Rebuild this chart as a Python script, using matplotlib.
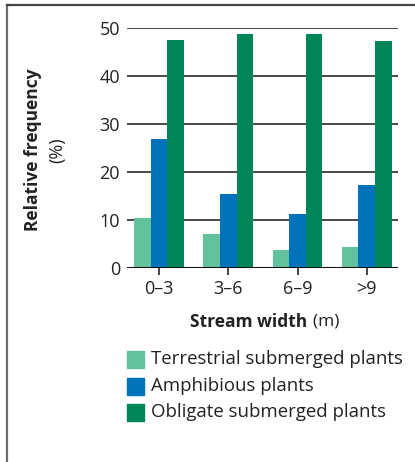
import numpy as np
import matplotlib
matplotlib.use('Agg')
import matplotlib.pyplot as plt
from matplotlib.lines import Line2D
from matplotlib.patches import Rectangle

plt.rcParams['font.family'] = ['Open Sans', 'DejaVu Sans']

widths = ['0\u20133', '3\u20136', '6\u20139', '>9']
terrestrial = [10.4, 7.0, 3.7, 4.3]
amphibious = [26.9, 15.4, 11.2, 17.3]
obligate = [47.5, 48.8, 48.8, 47.3]
series_names = ['Terrestrial submerged plants', 'Amphibious plants', 'Obligate submerged plants']
colors = ['#62c29b', '#0072bc', '#00855a']

W, H = 415, 462
fig = plt.figure(figsize=(W / 100, H / 100), dpi=100)
ax = fig.add_axes([127 / W, 1 - 268 / H, (398 - 127) / W, (268 - 28) / H])

x = np.arange(len(widths))
bw = 0.24
for i, vals in enumerate([terrestrial, amphibious, obligate]):
    ax.bar(x + (i - 1) * bw, vals, bw, color=colors[i], zorder=3)

ax.set_xlim(-0.46, 3.45)
ax.set_ylim(0, 50)
ax.set_yticks([0, 10, 20, 30, 40, 50])
for v in [10, 20, 30, 40, 50]:
    ax.axhline(v, color='#3a3a3a', lw=1.3, zorder=1)
ax.axhline(0, color='#111111', lw=2.2, zorder=4)
for s in ax.spines.values():
    s.set_visible(False)
ax.tick_params(axis='y', length=0, pad=5, labelsize=13, labelcolor='#222222')
ax.tick_params(axis='x', length=5, width=1.2, color='#222222', pad=4,
               labelsize=13, labelcolor='#222222')
ax.set_xticks(x)
ax.set_xticklabels(widths)

# axis titles
fig.text(33 / W, 1 - 150 / H, 'Relative frequency', rotation=90, ha='center', va='center',
         fontsize=12.5, fontweight='bold', color='#222222')
fig.text(57 / W, 1 - 150 / H, '(%)', rotation=90, ha='center', va='center',
         fontsize=13, color='#222222')

r = fig.canvas.get_renderer()
t1 = fig.text(0, 1 - 322 / H, 'Stream width', ha='left', va='center',
              fontsize=12.5, fontweight='bold', color='#222222')
t2 = fig.text(0, 1 - 322 / H, '\u2009(m)', ha='left', va='center',
              fontsize=12.5, color='#222222')
w1 = t1.get_window_extent(r).width
w2 = t2.get_window_extent(r).width
x0 = 263 - (w1 + w2) / 2
t1.set_x(x0 / W)
t2.set_x((x0 + w1 + 3) / W)

# legend drawn as squares with labels
rows = [359, 386, 412]
for name, c, yy in zip(series_names, colors, rows):
    fig.add_artist(Rectangle((127 / W, 1 - (yy + 8.5) / H), 17 / W, 17 / H,
                             color=c, transform=fig.transFigure))
    fig.text(151 / W, 1 - yy / H, name, ha='left', va='center',
             fontsize=13.4, color='#222222')

# outer frame
fig.add_artist(Line2D([7 / W, 7 / W], [0, 1 - 5 / H], color='#6e6e6e', lw=1.6))
fig.add_artist(Line2D([7 / W, 1], [1 - 5 / H, 1 - 5 / H], color='#444444', lw=1.6))

fig.savefig('out.png', dpi=100)
